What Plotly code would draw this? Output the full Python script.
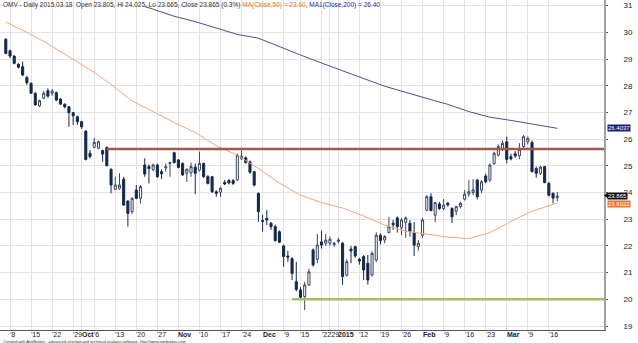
import pandas as pd
import plotly.graph_objects as go

# --- OMV daily prices, 2014-09-05 .. 2015-03-18 ---
holidays = ["2014-12-08", "2014-12-24", "2014-12-25", "2014-12-26",
            "2014-12-31", "2015-01-01", "2015-01-06"]
days = [d.strftime("%Y-%m-%d") for d in pd.bdate_range("2014-09-05", "2015-03-18")
        if d.strftime("%Y-%m-%d") not in holidays]

opens = [29.74, 29.31, 29.11, 28.80, 28.71, 28.31, 28.09, 27.72, 27.24, 27.53,
         27.81, 27.72, 27.74, 27.50, 27.31, 27.21, 26.99, 26.84, 26.65, 26.30,
         25.47, 25.69, 25.66, 25.57, 25.69, 24.87, 24.12, 24.16, 24.50, 23.68,
         23.28, 24.09, 23.78, 25.03, 24.97, 24.86, 25.03, 24.78, 24.92, 25.09,
         25.49, 25.22, 25.09, 24.72, 24.74, 24.95, 24.84, 25.09, 24.60, 24.59,
         24.03, 24.01, 24.38, 24.45, 24.45, 24.47, 25.26, 25.30, 25.15, 24.78,
         23.97, 22.95, 23.03, 22.85, 22.72, 22.53, 22.00, 21.62, 21.52, 20.66,
         20.35, 20.10, 20.54, 21.85, 21.50, 22.15, 22.10, 22.10, 22.05, 22.17,
         22.10, 20.90, 21.88, 21.97, 21.50, 21.60, 21.35, 20.91, 21.47, 22.40,
         22.22, 22.50, 22.85, 23.05, 22.68, 22.88, 22.85, 22.50, 21.97, 22.40,
         23.34, 23.84, 23.15, 23.57, 23.40, 23.60, 23.40, 23.30, 23.47, 23.75,
         23.94, 24.00, 24.47, 24.09, 24.62, 24.47, 25.09, 25.40, 25.62, 25.90,
         25.34, 25.45, 25.37, 25.72, 25.90, 25.87, 24.90, 24.72, 24.97, 24.34,
         23.97, 23.805]
highs = [29.78, 29.35, 29.14, 28.84, 28.90, 28.36, 28.12, 27.75, 27.48, 27.80,
         27.90, 27.88, 27.78, 27.53, 27.34, 27.24, 27.02, 26.88, 26.68, 26.33,
         25.59, 26.05, 25.95, 25.60, 25.72, 24.90, 24.59, 24.72, 24.59, 23.72,
         23.82, 24.28, 24.28, 25.28, 25.05, 25.08, 25.08, 24.87, 25.09, 25.15,
         25.53, 25.25, 25.12, 24.90, 25.12, 25.09, 25.53, 25.12, 24.65, 24.62,
         24.08, 24.22, 24.47, 24.50, 24.50, 25.45, 25.57, 25.35, 25.20, 24.80,
         24.00, 23.16, 23.34, 22.90, 22.80, 22.58, 22.05, 21.82, 21.58, 21.40,
         20.45, 20.66, 21.15, 21.90, 22.45, 22.57, 22.45, 22.35, 22.15, 22.30,
         22.15, 21.50, 22.00, 22.00, 21.55, 21.66, 21.66, 21.80, 22.51, 22.47,
         22.40, 23.09, 22.97, 23.10, 23.05, 23.10, 22.97, 22.90, 22.22, 23.05,
         23.90, 23.97, 23.65, 23.65, 23.75, 23.64, 23.45, 23.50, 23.65, 24.09,
         24.47, 24.50, 24.50, 24.47, 24.70, 25.09, 25.53, 25.80, 25.95, 26.09,
         25.45, 25.55, 25.85, 26.15, 26.10, 25.95, 24.97, 25.00, 25.00, 24.40,
         24.00, 24.025]
lows = [29.18, 29.03, 28.80, 28.65, 28.36, 28.03, 27.70, 27.25, 27.20, 27.50,
        27.55, 27.62, 27.42, 27.28, 27.15, 26.46, 26.53, 26.53, 26.38, 25.20,
        25.28, 25.66, 25.62, 25.15, 24.98, 23.97, 24.09, 24.10, 23.50, 22.72,
        23.20, 23.75, 23.59, 24.59, 24.34, 24.80, 24.55, 24.50, 24.78, 24.59,
        25.09, 24.90, 24.62, 24.40, 24.59, 23.94, 24.78, 24.55, 24.30, 23.98,
        23.84, 23.84, 24.28, 24.30, 24.28, 24.42, 25.22, 25.08, 24.70, 24.22,
        22.90, 22.53, 22.78, 22.60, 22.16, 22.10, 21.22, 21.40, 20.72, 20.30,
        19.97, 19.60, 20.50, 21.22, 21.35, 21.90, 22.00, 22.00, 21.95, 22.10,
        20.54, 20.85, 21.35, 21.55, 21.30, 20.72, 20.55, 20.85, 21.40, 22.05,
        22.10, 22.47, 22.60, 22.50, 22.40, 22.30, 22.35, 21.62, 21.82, 22.30,
        23.30, 23.30, 22.88, 23.35, 23.34, 23.48, 22.85, 23.15, 23.40, 23.70,
        23.84, 23.90, 23.74, 23.97, 24.35, 24.40, 25.03, 25.35, 25.55, 25.09,
        25.20, 25.30, 25.25, 25.65, 25.80, 24.75, 24.55, 24.65, 24.35, 23.85,
        23.59, 23.665]
closes = [29.21, 29.11, 28.84, 28.69, 28.40, 28.11, 27.72, 27.28, 27.44, 27.72,
          27.61, 27.80, 27.46, 27.31, 27.21, 26.99, 26.87, 26.65, 26.46, 25.24,
          25.34, 25.88, 25.90, 25.44, 25.00, 24.28, 24.28, 24.28, 23.53, 23.22,
          23.78, 23.78, 24.22, 24.69, 24.90, 25.03, 24.59, 24.70, 24.96, 25.12,
          25.12, 24.94, 24.66, 24.87, 24.97, 24.72, 25.09, 24.59, 24.34, 24.03,
          23.97, 24.16, 24.32, 24.36, 24.34, 25.40, 25.36, 25.12, 24.76, 24.28,
          23.28, 22.92, 22.97, 22.72, 22.20, 22.14, 21.60, 21.58, 20.97, 20.37,
          20.08, 20.54, 21.03, 21.29, 22.03, 22.03, 22.22, 22.25, 22.10, 22.22,
          20.85, 21.41, 21.81, 21.63, 21.43, 21.10, 20.72, 21.72, 22.40, 22.20,
          22.35, 22.72, 22.79, 22.72, 22.97, 23.05, 22.55, 22.03, 22.10, 22.97,
          23.84, 23.32, 23.62, 23.40, 23.53, 23.53, 23.09, 23.47, 23.59, 23.94,
          24.03, 24.10, 23.84, 24.40, 24.40, 25.03, 25.47, 25.72, 25.84, 25.24,
          25.26, 25.37, 25.62, 26.09, 26.03, 24.78, 24.72, 24.95, 24.37, 23.90,
          23.79, 23.865]

# Moving averages sampled every fifth session
ma50_days = days[0:130:5] + [days[-1]]
ma50_vals = [30.38, 30.00, 29.57, 29.10, 28.60, 28.05, 27.43, 27.03, 26.62, 26.25,
             25.75, 25.40, 24.90, 24.35, 23.90, 23.62, 23.42, 23.12, 22.78, 22.55,
             22.45, 22.33, 22.27, 22.50, 22.92, 23.30, 23.6022]
ma200_days = [days[33]] + days[40:130:5] + [days[-1]]
ma200_vals = [30.97, 30.60, 30.40, 30.15, 29.92, 29.78, 29.45, 29.15, 28.85, 28.55,
              28.25, 27.98, 27.75, 27.52, 27.30, 27.03, 26.82, 26.70, 26.57, 26.4037]

# Drawn levels: (start session, price)
resistance = ("2014-10-09", 25.63)
support = ("2014-12-11", 20.0)

tick_days = ["2014-09-08", "2014-09-15", "2014-09-22", "2014-09-29", "2014-10-01",
             "2014-10-06", "2014-10-13", "2014-10-20", "2014-10-27", "2014-11-03",
             "2014-11-10", "2014-11-17", "2014-11-24", "2014-12-01", "2014-12-09",
             "2014-12-15", "2014-12-22", "2014-12-29", "2015-01-02", "2015-01-12",
             "2015-01-19", "2015-01-26", "2015-02-02", "2015-02-09", "2015-02-16",
             "2015-02-23", "2015-03-02", "2015-03-09", "2015-03-16"]
tick_text = ["'8", "'15", "'22", "'29", "<b>Oct</b>", "'6", "'13", "'20", "'27",
             "<b>Nov</b>", "'10", "'17", "'24", "<b>Dec</b>", "'9", "'15", "'22",
             "'29", "<b>2015</b>", "'12", "'19", "'26", "<b>Feb</b>", "'9", "'16",
             "'23", "<b>Mar</b>", "'9", "'16"]

last_close = closes[-1]
last_ma50 = ma50_vals[-1]
last_ma200 = ma200_vals[-1]

FONT = "Liberation Sans, Arial, sans-serif"
X_RANGE = [-1.38, 142.1]

fig = go.Figure()
fig.add_trace(go.Candlestick(
    x=days, open=opens, high=highs, low=lows, close=closes,
    increasing=dict(fillcolor="#ffffff", line=dict(color="#3a4560", width=1)),
    decreasing=dict(fillcolor="#13294b", line=dict(color="#13294b", width=1)),
    showlegend=False, hoverinfo="skip"))
fig.add_trace(go.Scatter(x=ma50_days, y=ma50_vals, mode="lines",
                         line=dict(color="#f2a679", width=1), showlegend=False))
fig.add_trace(go.Scatter(x=ma200_days, y=ma200_vals, mode="lines",
                         line=dict(color="#4d4f8f", width=1), showlegend=False))

# Horizontal levels extended to the right edge
for (start, level), color in [(resistance, "#a5574f"), (support, "#a3bd63")]:
    fig.add_shape(type="line", xref="x", yref="y", x0=days.index(start), x1=X_RANGE[1],
                  y0=level, y1=level, line=dict(color=color, width=2.5))

# Bottom axis labels, left-aligned at each week tick
for d, t in zip(tick_days, tick_text):
    fig.add_annotation(x=d, xref="x", y=0, yref="paper", text=t, showarrow=False,
                       xanchor="left", yanchor="top", xshift=-2, yshift=1,
                       font=dict(family=FONT, size=7, color="#222"))

# Price tags on the right axis
for val, txt, bg, dy in [(last_ma200, f"{last_ma200:.4f}", "#1d1d78", 0),
                         (last_close, f"{last_close:.3f}", "#111111", 0.5),
                         (last_ma50, f"{last_ma50:.4f}", "#e8702a", -1)]:
    fig.add_annotation(x=1, xref="paper", y=val, yref="y", text=txt, showarrow=False,
                       xanchor="left", yanchor="middle", xshift=3, yshift=dy,
                       bgcolor=bg, borderpad=0,
                       font=dict(family=FONT, size=6, color="#ffffff"))
fig.add_shape(type="path", xref="paper", yref="y", xsizemode="pixel", ysizemode="pixel",
              xanchor=1, yanchor=last_close, path="M 0,0.5 L 4,3.5 L 4,-2.5 Z",
              fillcolor="#111111", line=dict(width=0))

title = ("OMV - Daily 2015.03.18  Open 23.805, Hi 24.025, Lo 23.665, Close 23.865 (0.3%) "
         f"<span style='color:#e8702a'>MA(Close,50) = {last_ma50:.2f}</span>, "
         f"<span style='color:#2a2a9a'>MA1(Close,200) = {last_ma200:.2f}</span>")
fig.add_annotation(x=0, xref="paper", y=1, yref="paper", text=title, showarrow=False,
                   xanchor="left", yanchor="top", xshift=1, yshift=1,
                   font=dict(family=FONT, size=6.5, color="#333"))
fig.add_annotation(x=0, xref="paper", y=0, yref="paper",
                   text="Created with AmiBroker - advanced charting and technical analysis software. http://www.amibroker.com",
                   showarrow=False, xanchor="left", yanchor="top", xshift=1, yshift=-7,
                   font=dict(family=FONT, size=4, color="#333"))

fig.update_layout(
    width=638, height=343, margin=dict(l=0, r=34, t=0, b=13),
    paper_bgcolor="#ffffff", plot_bgcolor="#ffffff",
    xaxis=dict(type="category", range=X_RANGE, rangeslider=dict(visible=False),
               tickvals=tick_days, showticklabels=False, showgrid=True,
               gridcolor="#e3e3e3", gridwidth=1, showline=True, linecolor="#555",
               linewidth=1, zeroline=False, fixedrange=True),
    yaxis=dict(side="right", range=[18.85, 31.21], dtick=1, showgrid=True,
               gridcolor="#e3e3e3", gridwidth=1, showline=True, linecolor="#a0a0a0",
               linewidth=2, ticks="outside", ticklen=2, tickcolor="#555",
               ticklabelstandoff=14, zeroline=False,
               tickfont=dict(family=FONT, size=8, color="#222")),
)

fig.write_html("out.html")
